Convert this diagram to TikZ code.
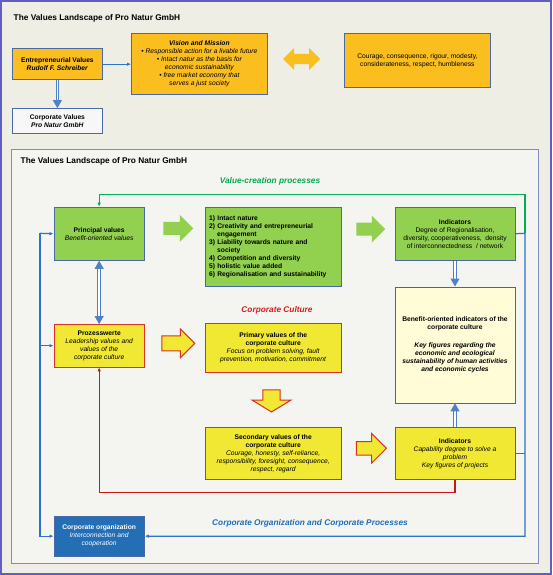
\documentclass[tikz,border=0pt]{standalone}
\usepackage{fontspec}
\setmainfont{Liberation Sans}
\usepackage{xcolor}
\usetikzlibrary{positioning, arrows.meta, shapes.arrows}

\definecolor{bgouter}{RGB}{238,238,229}
\definecolor{frameline}{RGB}{95,95,195}
\definecolor{panelfill}{RGB}{244,244,241}
\definecolor{panelline}{RGB}{125,140,200}
\definecolor{boxline}{RGB}{75,105,165}
\definecolor{orangeval}{RGB}{250,190,30}
\definecolor{greenval}{RGB}{146,208,80}
\definecolor{yellowval}{RGB}{240,232,50}
\definecolor{paleyellow}{RGB}{255,252,215}
\definecolor{redline}{RGB}{215,50,40}
\definecolor{redpath}{RGB}{200,25,25}
\definecolor{blueline}{RGB}{45,115,200}
\definecolor{blueorg}{RGB}{35,110,180}
\definecolor{greenline}{RGB}{0,175,80}
\definecolor{greentext}{RGB}{0,170,80}
\definecolor{redtext}{RGB}{210,30,30}
\definecolor{bluetext}{RGB}{30,110,190}
\definecolor{dblblue}{RGB}{80,128,198}
\definecolor{cvwhite}{RGB}{247,247,247}

\tikzset{
  box/.style={draw=boxline, line width=0.8pt, align=center, inner sep=1pt,
    font=\fontsize{6.7}{8}\selectfont, anchor=north west},
  obox/.style={box, fill=orangeval},
  gbox/.style={box, fill=greenval},
  ybox/.style={box, fill=yellowval, draw=redline},
  garrow/.style={single arrow, fill=greenval, inner sep=6.3pt,
    single arrow head extend=7pt, minimum width=26.6pt},
  yarrow/.style={single arrow, fill=yellowval, draw=redline, line width=1pt},
  bus/.style={draw=blueline, line width=1.2pt, -{Latex[length=4pt,width=3.5pt]}},
  dblline/.style={draw=dblblue, double=white, double distance=1.8pt, line width=1pt},
  heading/.style={font=\bfseries\fontsize{8.3}{10}\selectfont, anchor=west, inner sep=1pt},
  proclabel/.style={font=\bfseries\itshape\fontsize{8.3}{10}\selectfont},
}

\begin{document}
\begin{tikzpicture}[x=1pt, y=-1pt]
  \useasboundingbox (0,0) rectangle (552,575);
  \fill[bgouter] (0,0) rectangle (552,575);
  \draw[frameline, line width=2pt] (1,1) rectangle (551,574);

  % upper part
  \node[heading] (t1) at (12.5,18.3) {The Values Landscape of Pro Natur GmbH};
  \node[obox, minimum width=90pt, minimum height=31pt] (entre) at (12,48.3)
    {\textbf{Entrepreneurial Values}\\\textbf{\textit{Rudolf F. Schreiber}}};
  \node[obox, minimum width=136pt, minimum height=61pt, font=\itshape\fontsize{6.7}{8}\selectfont] (vision) at (131,33.3)
    {\textbf{Vision and Mission}\\\textbullet\ Responsible action for a livable future\\
     \textbullet\ Intact natur as the basis for\\economic sustainability\\
     \textbullet\ free market economy that\\serves a just society};
  \node[double arrow, fill=orangeval, inner sep=5pt, double arrow head extend=5.8pt,
    minimum height=37pt, minimum width=21.6pt] (swap) at (301.5,59) {};
  \node[obox, minimum width=146pt, minimum height=53.4pt] (virtues) at (344,33.3)
    {Courage, consequence, rigour, modesty,\\considerateness, respect, humbleness};
  \node[box, fill=cvwhite, below=28pt of entre, minimum width=90pt, minimum height=25pt] (corpval)
    {\textbf{Corporate Values}\\\textbf{\textit{Pro Natur GmbH}}};

  \draw[bus, line width=1pt] (entre) -- (vision);
  \draw[dblline, -{Triangle[width=9pt,length=8pt]}] (entre) -- (corpval);

  % lower part
  \draw[draw=panelline, fill=panelfill, line width=1pt] (11.6,149) rectangle (538,563.5);
  \node[heading] (t2) at (19.5,161) {The Values Landscape of Pro Natur GmbH};

  \node[gbox, minimum width=90.5pt, minimum height=53.3pt] (principal) at (53.5,206.7)
    {\textbf{Principal values}\\\textit{Benefit-oriented values}};
  \node[gbox, right=60pt of principal.north east, anchor=north west, align=left,
    text width=128pt, inner xsep=4pt, minimum height=79.3pt, font=\bfseries\fontsize{6.7}{8}\selectfont] (goals)
    {1) Intact nature\\
     2) Creativity and entrepreneurial\\\hspace*{8pt}engagement\\
     3) Liability towards nature and\\\hspace*{8pt}society\\
     4) Competition and diversity\\
     5) holistic value added\\
     6) Regionalisation and sustainability};
  \node[gbox, right=53pt of goals.north east, anchor=north west, minimum width=120pt, minimum height=53.3pt] (ind1)
    {\textbf{Indicators}\\Degree of Regionalisation,\\diversity, cooperativeness,~~density\\of interconnectedness~~/ network};

  \node[ybox, below=63.3pt of principal, minimum width=90.5pt, minimum height=42.4pt] (prozess)
    {\textbf{Prozesswerte}\\\textit{Leadership values and}\\\textit{values of the}\\\textit{corporate culture}};
  \node[ybox, below=36.3pt of goals, minimum width=136pt, minimum height=48.7pt] (primary)
    {\textbf{Primary values of the}\\\textbf{corporate culture}\\\textit{Focus on problem solving, fault}\\\textit{prevention, motivation, commitment}};
  \node[ybox, below=54pt of primary, minimum width=136pt, minimum height=52.7pt] (secondary)
    {\textbf{Secondary values of the}\\\textbf{corporate culture}\\\textit{Courage, honesty, self-reliance,}\\
     \textit{responsibility, foresight, consequence,}\\\textit{respect, regard}};
  \node[box, fill=paleyellow, draw=redline, below=25.7pt of ind1, minimum width=120pt, minimum height=116pt] (benefit)
    {\textbf{Benefit-oriented indicators of the}\\\textbf{corporate culture}\\[10pt]
     \textbf{\textit{Key figures regarding the}}\\\textbf{\textit{economic and ecological}}\\
     \textbf{\textit{sustainability of human activities}}\\\textbf{\textit{and economic cycles}}};
  \node[ybox, below=24pt of benefit, minimum width=120pt, minimum height=52pt] (ind2)
    {\textbf{Indicators}\\\textit{Capability degree to solve a}\\\textit{problem}\\\textit{Key figures of projects}};
  \node[box, fill=blueorg, text=white, below=148.6pt of prozess, minimum width=90.5pt, minimum height=39.7pt] (corporg)
    {\textbf{Corporate organization}\\\textit{Interconnection and}\\\textit{cooperation}};

  % block arrows
  \node[garrow, minimum height=30pt] (g1) at (175,228.3) {};
  \node[garrow, minimum height=29pt] (g2) at (367.5,229.2) {};
  \node[yarrow, inner sep=7pt, single arrow head extend=7pt, minimum width=28pt, minimum height=33pt] (y1) at (174.5,343.3) {};
  \node[yarrow, rotate=-90, inner sep=5pt, single arrow head extend=6.8pt, single arrow tip angle=117,
    minimum width=39pt, minimum height=22pt] (y2) at (271.5,398.3) {};
  \node[yarrow, inner sep=6.3pt, single arrow head extend=8pt, minimum width=28.7pt, minimum height=30pt] (y3) at (368,448.3) {};

  % labels
  \node[proclabel, text=greentext] (vcp) at (270,181.7) {Value-creation processes};
  \node[proclabel, text=redtext] (cc) at (277,310.7) {Corporate Culture};
  \node[proclabel, text=bluetext] (cop) at (310,523.3) {Corporate Organization and Corporate Processes};

  % connectors
  \coordinate (rbus) at (525,233.3);
  \coordinate (gtop) at (525,194.3);
  \coordinate (lbus) at (40,233.3);
  \draw[bus, draw=greenline] (rbus) -- (gtop) -| (principal.north);
  \draw[bus] (ind1.east) -- (rbus) |- (corporg.east);
  \draw[draw=blueline, line width=1.2pt] (ind2.east) -- (ind2.east -| rbus);
  \draw[bus] (lbus) -- (principal.west);
  \draw[bus] (lbus) |- (corporg.west);
  \draw[bus] (prozess.west -| lbus) -- (prozess.west);
  \draw[bus, draw=redpath] (ind2.south) -- ++(0,12.3) -| (prozess.south);
  \draw[dblline, {Triangle[width=9pt,length=8pt]}-{Triangle[width=9pt,length=8pt]}] (principal) -- (prozess);
  \draw[dblline, -{Triangle[width=9pt,length=8pt]}] (ind1) -- (benefit);
  \draw[dblline, -{Triangle[width=9pt,length=8pt]}] (ind2) -- (benefit);
\end{tikzpicture}
\end{document}
